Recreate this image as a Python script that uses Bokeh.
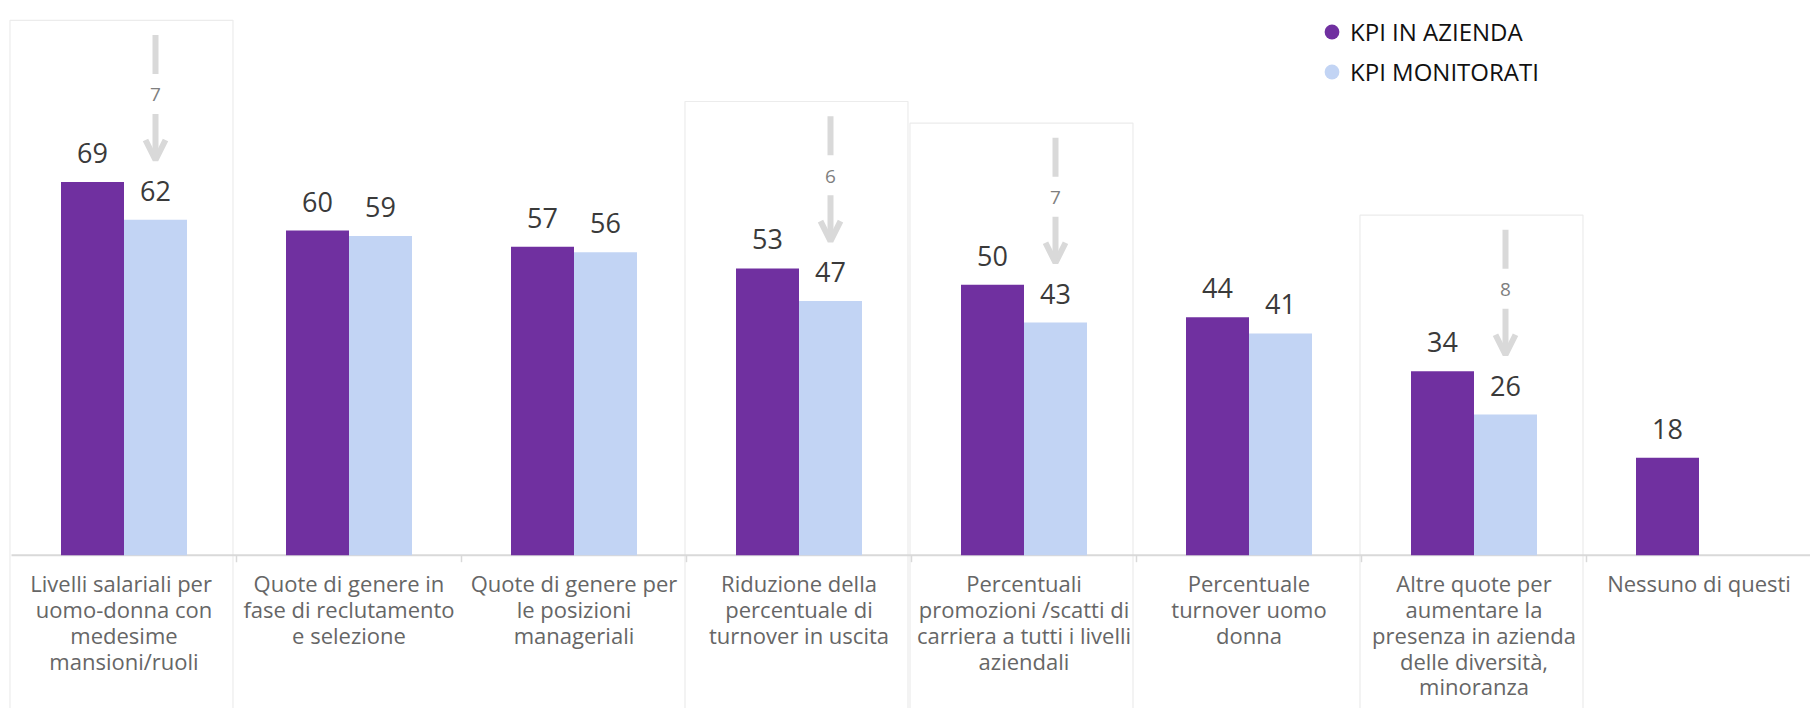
import numpy as np
from bokeh.plotting import figure
from bokeh.models import ColumnDataSource, Range1d, Arrow, OpenHead, Legend, LegendItem
from bokeh.core.properties import value
from bokeh.embed import file_html
from bokeh.resources import INLINE

# ---------------- data ----------------
categories = [
    "Livelli salariali  per\nuomo-donna con\nmedesime\nmansioni/ruoli",
    "Quote di genere in\nfase di reclutamento\ne selezione",
    "Quote di genere per\nle posizioni\nmanageriali",
    "Riduzione della\npercentuale di\nturnover in uscita",
    "Percentuali\npromozioni /scatti di\ncarriera a tutti i livelli\naziendali",
    "Percentuale\nturnover uomo\ndonna",
    "Altre quote per\naumentare la\npresenza in azienda\ndelle diversità,\nminoranza",
    "Nessuno di questi",
]
kpi_azienda = [69, 60, 57, 53, 50, 44, 34, 18]
kpi_monitorati = [62, 59, 56, 47, 43, 41, 26, None]
series_names = ["KPI IN AZIENDA", "KPI MONITORATI"]
highlighted = [0, 3, 4, 6]  # categories with a gap arrow

# ---------------- style / layout ----------------
PURPLE = "#7030A0"
LIGHT = "#C2D4F4"
GREY_LINE = "#d9d9d9"
BOX_LINE = "#ececec"
FONT = value("Open Sans")

W, H = 1810, 708
PX_CAT = 225.0       # pixels per category
LEFT_PAD = 11.0      # pixels before first category
PX_UNIT = 5.41       # pixels per value unit
BASE_PX = 554.7      # baseline pixel row

n = len(categories)
x_range = Range1d(-LEFT_PAD / PX_CAT, (W - LEFT_PAD) / PX_CAT)
y_range = Range1d(-(H - BASE_PX) / PX_UNIT, BASE_PX / PX_UNIT)

def du(px):
    return px / PX_UNIT

def dx(px):
    return px / PX_CAT

p = figure(width=W, height=H, x_range=x_range, y_range=y_range,
           output_backend="svg", toolbar_location=None,
           x_axis_location=None, y_axis_location=None,
           min_border=0, outline_line_color=None,
           background_fill_color="white", border_fill_color="white")
p.grid.visible = False

idx = np.arange(n)
centers = idx + 0.5
off = dx(31.5)
bw = dx(63)

az = np.array(kpi_azienda, dtype=float)
mo = np.array([np.nan if v is None else v for v in kpi_monitorati], dtype=float)
has_mo = ~np.isnan(mo)

# highlight boxes & arrows
hl = np.array(highlighted)
tips = mo[hl] + 10.5
arrow_top = tips + du(128)
box_src = ColumnDataSource(dict(
    left=hl - dx(1.5), right=hl + dx(221.5),
    top=arrow_top + 2.7, bottom=np.full(len(hl), y_range.start - 10)))
p.quad(left="left", right="right", top="top", bottom="bottom", source=box_src,
       fill_color=None, line_color=BOX_LINE, line_width=1.2)

# baseline and category ticks
p.segment(x0=[0], y0=[0], x1=[n], y1=[0], line_color=GREY_LINE, line_width=2)
p.segment(x0=idx[1:], y0=np.zeros(n - 1), x1=idx[1:], y1=np.full(n - 1, -du(7)),
          line_color=GREY_LINE, line_width=1.5)

# bars
src_a = ColumnDataSource(dict(x=centers - off, top=az, label=[str(v) for v in kpi_azienda]))
src_m = ColumnDataSource(dict(x=(centers + off)[has_mo], top=mo[has_mo],
                              label=[str(int(v)) for v in mo[has_mo]]))
p.vbar(x="x", top="top", bottom=0, width=bw, source=src_a, fill_color=PURPLE, line_color=None)
p.vbar(x="x", top="top", bottom=0, width=bw, source=src_m, fill_color=LIGHT, line_color=None)

for src in (src_a, src_m):
    p.text(x="x", y="top", text="label", source=src, text_align="center",
           text_baseline="alphabetic", y_offset=-29, text_font=FONT,
           text_font_size="27px", text_color="#3a3a3a")

# gap arrows
ax = centers[hl] + off
p.segment(x0=ax, y0=arrow_top, x1=ax, y1=tips + du(89),
          line_color=GREY_LINE, line_width=6, line_cap="butt")
diff_src = ColumnDataSource(dict(x=ax, y=tips + du(68),
                                 t=[str(int(a - m)) for a, m in zip(az[hl], mo[hl])]))
p.text(x="x", y="y", text="t", source=diff_src, text_align="center",
       text_baseline="middle", text_font=FONT, text_font_size="19px", text_color="#7f7f7f")
arr_src = ColumnDataSource(dict(x=ax, y0=tips + du(49), y1=tips + du(3)))
p.add_layout(Arrow(x_start="x", y_start="y0", x_end="x", y_end="y1", source=arr_src,
                   line_color=GREY_LINE, line_width=6,
                   end=OpenHead(size=20, line_width=6, line_color=GREY_LINE)))

# category labels
p.text(x=centers, y=np.zeros(n), text=categories, text_align="center",
       text_baseline="top", y_offset=13, text_font=FONT, text_font_size="22px",
       text_color="#666666", text_line_height=0.86)

# legend (proxy markers placed outside the visible range)
out_x = [x_range.start - 1]
r1 = p.scatter(x=out_x, y=[0], marker="circle", fill_color=PURPLE, line_color=None)
r2 = p.scatter(x=out_x, y=[0], marker="circle", fill_color=LIGHT, line_color=None)
legend = Legend(items=[LegendItem(label=series_names[0], renderers=[r1]),
                       LegendItem(label=series_names[1], renderers=[r2])],
                location=(1313, 618), orientation="vertical",
                glyph_width=37, glyph_height=37, label_standoff=0, spacing=3,
                padding=0, margin=0, border_line_color=None, background_fill_alpha=0,
                label_text_font="Open Sans", label_text_font_size="24px",
                label_text_color="#111111")
p.add_layout(legend)

open("out.html", "w").write(file_html(p, INLINE))
